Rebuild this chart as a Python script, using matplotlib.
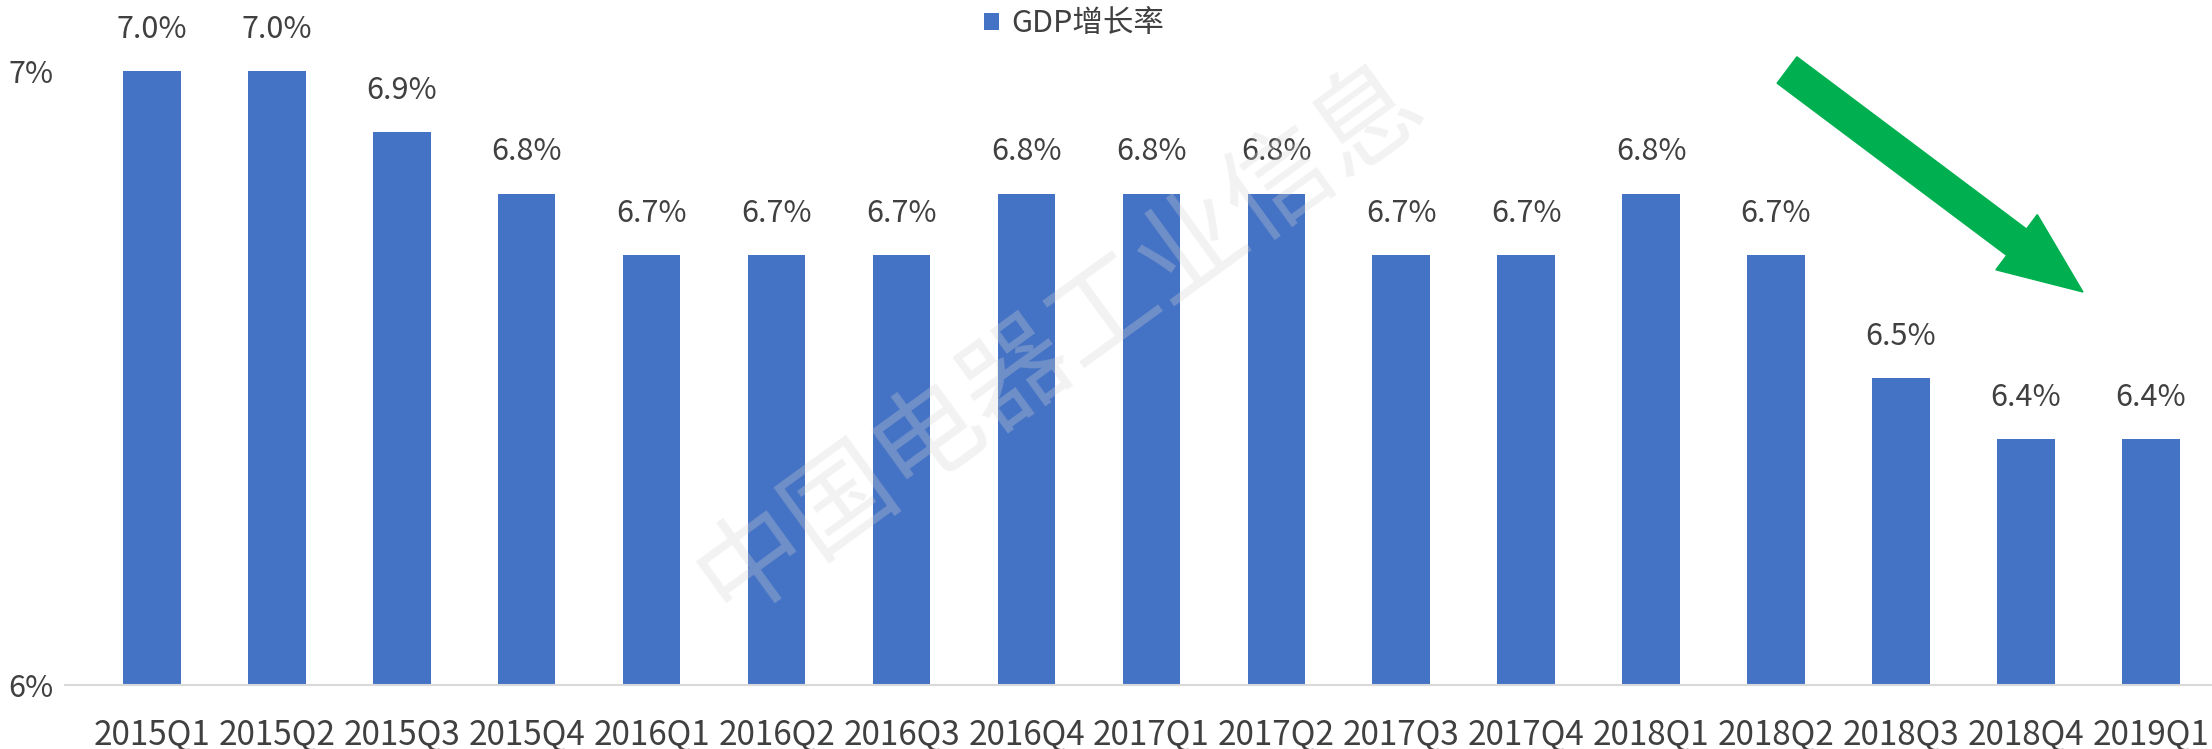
import matplotlib
matplotlib.use("Agg")
import matplotlib.pyplot as plt
from matplotlib.patches import FancyArrow
from matplotlib.transforms import IdentityTransform

plt.rcParams['font.family'] = ['Noto Sans CJK SC', 'DejaVu Sans']

categories = ["2015Q1", "2015Q2", "2015Q3", "2015Q4", "2016Q1", "2016Q2", "2016Q3",
              "2016Q4", "2017Q1", "2017Q2", "2017Q3", "2017Q4", "2018Q1", "2018Q2",
              "2018Q3", "2018Q4", "2019Q1"]
gdp_growth = [7.0, 7.0, 6.9, 6.8, 6.7, 6.7, 6.7, 6.8, 6.8, 6.8, 6.7, 6.7, 6.8, 6.7, 6.5, 6.4, 6.4]
y_ticks = [6, 7]
y_tick_labels = ["6%", "7%"]
series_name = "GDP增长率"

W, H = 2212, 749
fig = plt.figure(figsize=(W / 100, H / 100), dpi=100)
ax = fig.add_axes([65 / W, (H - 685) / H, 1 - 65 / W, (685 - 71) / H])

x = list(range(len(categories)))
bars = ax.bar(x, gdp_growth, width=0.46, color="#4472C4", label=series_name, zorder=2)

ax.set_xlim(-0.696, 16.49)
ax.set_ylim(6, 7)
ax.set_yticks(y_ticks)
ax.set_yticklabels(y_tick_labels, fontsize=22, color="#404040")
ax.set_xticks(x)
ax.set_xticklabels(categories, fontsize=24, color="#404040")
ax.tick_params(axis='y', length=0, pad=8)
ax.tick_params(axis='x', length=0, pad=23)
for s in ["top", "right", "left"]:
    ax.spines[s].set_visible(False)
ax.spines["bottom"].set_color("#d9d9d9")
ax.spines["bottom"].set_linewidth(1.5)

for xi, v in zip(x, gdp_growth):
    ax.annotate(f"{v:.1f}%", (xi, v), xytext=(0, 19), textcoords="offset points",
                ha="center", va="bottom", fontsize=22, color="#404040", clip_on=False)

leg = ax.legend(loc="center", bbox_to_anchor=(1074 / W, 1 - 24 / H),
                bbox_transform=fig.transFigure, frameon=False, fontsize=22,
                handlelength=0.5, handleheight=0.5, handletextpad=0.4,
                labelcolor="#404040")

# watermark
fig.text(1060 / W, 1 - 340 / H, "中国电器工业信息", rotation=36, fontsize=78,
         color="#d4d4d4", alpha=0.3, ha="center", va="center", zorder=5)

# green trend arrow (display pixel coordinates)
tail = (1787, H - 70)
tip = (2083, H - 292)
arr = FancyArrow(tail[0], tail[1], tip[0] - tail[0], tip[1] - tail[1], width=33,
                 head_width=69, head_length=83, length_includes_head=True,
                 color="#00B050", transform=IdentityTransform())
fig.patches.append(arr)

fig.savefig("out.png", dpi=100)
